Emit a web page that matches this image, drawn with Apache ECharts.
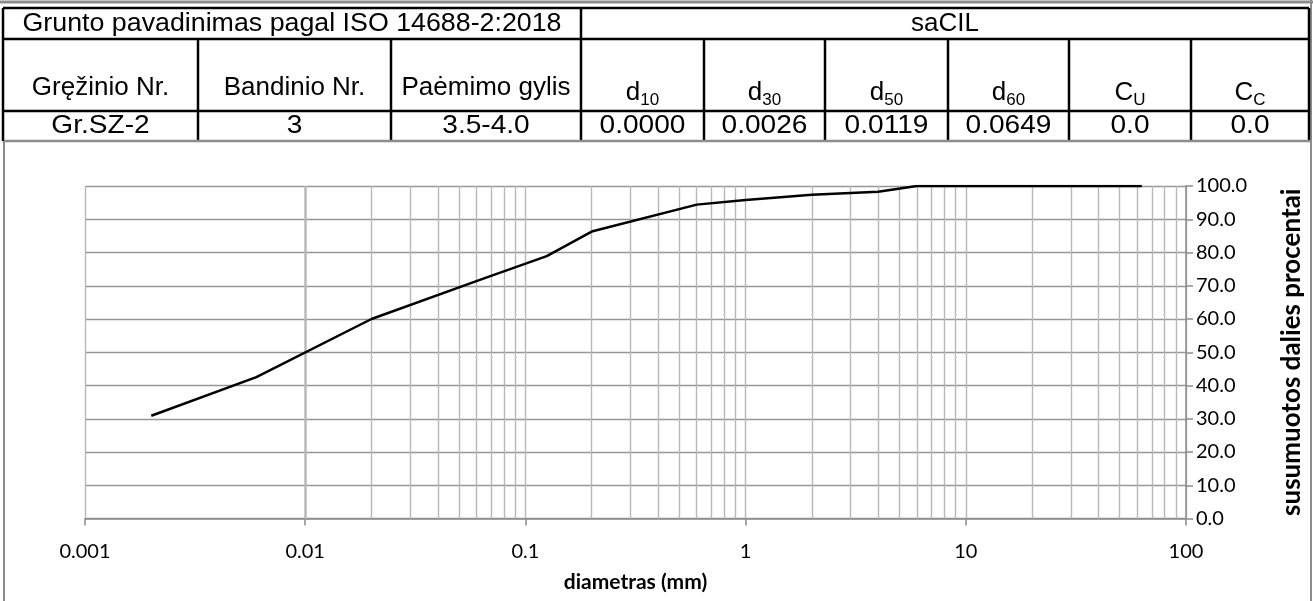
<!DOCTYPE html>
<html><head><meta charset="utf-8">
<script src="https://cdn.jsdelivr.net/npm/echarts@6/dist/echarts.min.js"></script>
<style>html,body{margin:0;padding:0;background:#fff}#c{width:1313px;height:601px}</style>
</head><body><div id="c"></div>
<script>
// ---- data ----
const soilStandardLabel = 'Grunto pavadinimas pagal ISO 14688-2:2018';
const soilCode = 'saCIL';
const headerLabels = ['Gręžinio Nr.', 'Bandinio Nr.', 'Paėmimo gylis'];
const paramSymbols = ['d', 'd', 'd', 'd', 'C', 'C'];
const paramSubs = ['10', '30', '50', '60', 'U', 'C'];
const rowValues = ['Gr.SZ-2', '3', '3.5-4.0', '0.0000', '0.0026', '0.0119', '0.0649', '0.0', '0.0'];
const diameters = [0.002, 0.006, 0.02, 0.063, 0.125, 0.2, 0.6, 1, 2, 4, 6, 63];
const passing = [30.9, 42.5, 60.0, 71.9, 78.9, 86.3, 94.4, 95.8, 97.4, 98.3, 100, 100];
const xTickValues = [0.001, 0.01, 0.1, 1, 10, 100];
const xTickLabels = ['0.001', '0.01', '0.1', '1', '10', '100'];
const xAxisTitle = 'diametras (mm)';
const yAxisTitle = 'susumuotos dalies procentai';

// ---- layout ----
const colEdges = [3, 198, 391, 581, 704, 825, 948, 1069, 1191, 1309];
const rowEdges = [8, 39, 111, 141];
const TF = '"Liberation Sans", Arial, sans-serif';
const tableSize = 26, subSize = 17;
const CF = 'Lato, "Open Sans", sans-serif';

const ctx = document.createElement('canvas').getContext('2d');
function tw(t, font) { ctx.font = font; return ctx.measureText(t).width; }

const g = [];
function hline(x1, x2, y, color, w) { g.push({ type: 'line', silent: true, shape: { x1, y1: y, x2, y2: y }, style: { stroke: color, lineWidth: w } }); }
function vline(x, y1, y2, color, w) { g.push({ type: 'line', silent: true, shape: { x1: x, y1, x2: x, y2 }, style: { stroke: color, lineWidth: w } }); }
function txt(t, x, y, size, align, sx) {
  g.push({ type: 'text', silent: true, x, y, scaleX: sx || 1, style: { text: t, font: size + 'px ' + TF, fill: '#000', align: align || 'center', verticalAlign: 'middle' } });
}
// outer frame
hline(0, 1313, 2, '#8c8c8c', 3);
vline(1311, 0, 601, '#8c8c8c', 2);
vline(4, 141, 601, '#8c8c8c', 2);
// table lines
hline(colEdges[0], colEdges[9], rowEdges[0], '#000', 2.5);
hline(colEdges[0], colEdges[9], rowEdges[1], '#000', 2.5);
hline(colEdges[0], colEdges[9], rowEdges[2], '#000', 2.5);
vline(colEdges[0], rowEdges[0], rowEdges[3], '#000', 2.5);
vline(colEdges[3], rowEdges[0], rowEdges[3], '#000', 2.5);
vline(colEdges[9], rowEdges[0], rowEdges[3], '#000', 2.5);
for (let i = 1; i < 9; i++) if (i !== 3) vline(colEdges[i], rowEdges[1], rowEdges[3], '#000', 2.5);
hline(4, 1311, rowEdges[3], '#8c8c8c', 2.5);
// row 1
txt(soilStandardLabel, (colEdges[0] + colEdges[3]) / 2, 24, tableSize, 'center', 1.03);
txt(soilCode, (colEdges[3] + colEdges[9]) / 2, 24, tableSize);
// row 2
headerLabels.forEach((h, i) => txt(h, (colEdges[i] + colEdges[i + 1]) / 2, 88, tableSize));
paramSymbols.forEach((s, i) => {
  const c = 3 + i;
  const cx = (colEdges[c] + colEdges[c + 1]) / 2;
  const wm = tw(s, tableSize + 'px ' + TF), ws = tw(paramSubs[i], subSize + 'px ' + TF);
  const left = cx - (wm + ws) / 2;
  txt(s, left, 93, tableSize, 'left');
  txt(paramSubs[i], left + wm, 100, subSize, 'left');
});
// row 3
rowValues.forEach((v, i) => txt(v, (colEdges[i] + colEdges[i + 1]) / 2, 126, tableSize, 'center', 1.08));

// minor vertical grid positions (2..9 within each decade)
const minorX = [];
for (let e = -3; e < 2; e++) for (let m = 2; m <= 9; m++) minorX.push(+(m * Math.pow(10, e)).toPrecision(2));

const chart = echarts.init(document.getElementById('c'), null, { renderer: 'canvas' });
chart.setOption({
  animation: false,
  backgroundColor: '#fff',
  grid: { left: 85, right: 124, top: 186, bottom: 82.5, containLabel: false },
  xAxis: {
    type: 'log', logBase: 10, min: 0.001, max: 100,
    name: xAxisTitle, nameLocation: 'middle', nameGap: 53,
    nameTextStyle: { fontFamily: CF, fontWeight: 'bold', fontSize: 21, color: '#000' },
    axisLine: { show: true, lineStyle: { color: '#8c8c8c', width: 1.5 } },
    axisTick: { show: true, length: 7, inside: false, lineStyle: { color: '#8c8c8c', width: 1.5 } },
    minorTick: { show: false },
    splitLine: { show: true, lineStyle: { color: '#b8b8b8', width: 1.4 } },
    axisLabel: {
      margin: 23, fontFamily: CF, fontSize: 20, color: '#000',
      formatter: v => { const i = xTickValues.findIndex(t => Math.abs(Math.log10(t) - Math.log10(v)) < 1e-6); return i >= 0 ? xTickLabels[i] : ''; }
    }
  },
  yAxis: {
    type: 'value', position: 'right', min: 0, max: 100, interval: 10,
    name: yAxisTitle, nameLocation: 'middle', nameGap: 93, nameRotate: 90,
    nameTextStyle: { fontFamily: CF, fontWeight: 'bold', fontSize: 26, color: '#000' },
    axisLine: { show: true, lineStyle: { color: '#8c8c8c', width: 1.5 } },
    axisTick: { show: true, length: 7, inside: false, lineStyle: { color: '#8c8c8c', width: 1.5 } },
    splitLine: { show: true, lineStyle: { color: '#969696', width: 1.4 } },
    axisLabel: { margin: 10, fontFamily: CF, fontSize: 20, color: '#000', formatter: v => v.toFixed(1) }
  },
  graphic: g,
  series: [
    {
      type: 'line', name: 'minorGrid', data: [[0.001, 0]], symbol: 'none', silent: true,
      lineStyle: { width: 0, opacity: 0 }, z: 1,
      markLine: {
        silent: true, symbol: 'none', z: 1, animation: false,
        label: { show: false },
        lineStyle: { color: '#b8b8b8', width: 1.4, type: 'solid' },
        emphasis: { disabled: true },
        data: minorX.map(v => ({ xAxis: v }))
      }
    },
    {
      type: 'line', name: 'curve', data: diameters.map((d, i) => [d, passing[i]]),
      symbol: 'none', silent: true, z: 5,
      lineStyle: { color: '#000', width: 2.5 }
    }
  ]
});
</script>
</body></html>
